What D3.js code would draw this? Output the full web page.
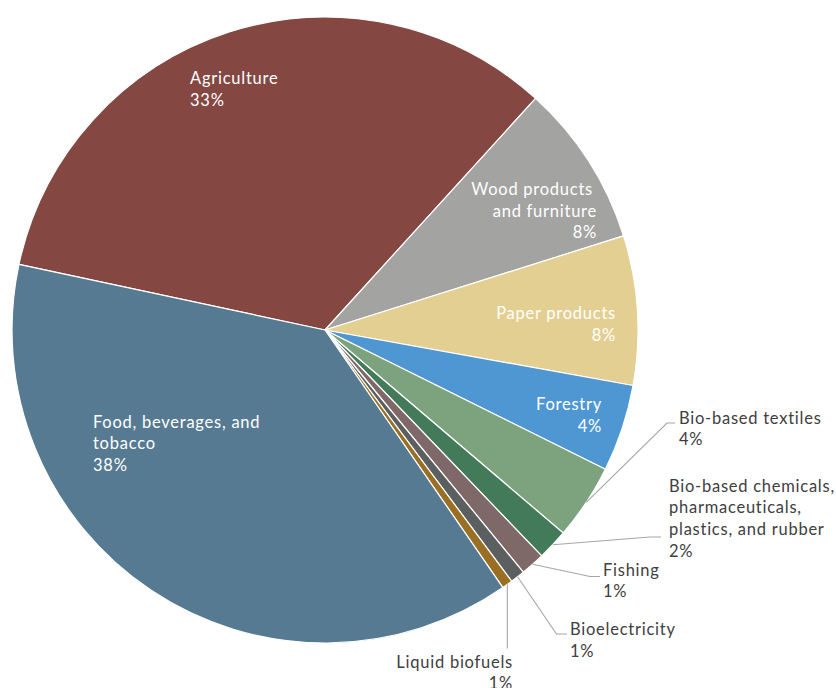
<!DOCTYPE html>
<html><head><meta charset="utf-8">
<script src="https://cdn.jsdelivr.net/npm/d3@7"></script>
<style>html,body{margin:0;padding:0;background:#fff;overflow:hidden}</style>
</head><body><svg id="c" width="836" height="688"></svg>
<script>
const categories = ["Agriculture","Wood products and furniture","Paper products","Forestry","Bio-based textiles","Bio-based chemicals, pharmaceuticals, plastics, and rubber","Fishing","Bioelectricity","Liquid biofuels","Food, beverages, and tobacco"];
const values = [33.4, 8.4, 7.7, 4.5, 3.9, 1.6, 1.25, 0.75, 0.55, 38.0];
const pctLabels = ["33%","8%","8%","4%","4%","2%","1%","1%","1%","38%"];
const colors = ["#844742","#A3A3A2","#E3CF91","#4F97D2","#7CA37D","#437B5A","#7F6968","#5B5F5F","#9A6F24","#567A92"];

// label layout: lines, anchor, x, first baseline, inside?, leader bend/end
const labelLayout = [
  {lines:["Agriculture"], x:190, y:84, anchor:"start", inside:true},
  {lines:["Wood products","and furniture"], x:596, y:195, anchor:"end", inside:true, firstDx:-4},
  {lines:["Paper products"], x:615, y:319, anchor:"end", inside:true},
  {lines:["Forestry"], x:601, y:410, anchor:"end", inside:true},
  {lines:["Bio-based textiles"], x:679, y:423.5, anchor:"start", inside:false, leader:[[667,423],[675,423]]},
  {lines:["Bio-based chemicals,","pharmaceuticals,","plastics, and rubber"], x:669, y:491.5, anchor:"start", inside:false, leader:[[650,537],[661,537]]},
  {lines:["Fishing"], x:603, y:575.5, anchor:"start", inside:false, leader:[[590,576.5],[600,576.5]]},
  {lines:["Bioelectricity"], x:570, y:635, anchor:"start", inside:false, leader:[[556.5,634],[567,634]]},
  {lines:["Liquid biofuels"], x:512, y:667.5, anchor:"end", inside:false, leader:["v",648.5]},
  {lines:["Food, beverages, and","tobacco"], x:93, y:427.5, anchor:"start", inside:true}
];

const cx = 325, cy = 330, R = 313, lineH = 21.7;
const svg = d3.select("#c");
svg.append("rect").attr("width",836).attr("height",688).attr("fill","#fff");
const g = svg.append("g").attr("transform",`translate(${cx},${cy})`);

const startDeg = -77.9;
const pie = d3.pie().sort(null).value(d=>d)
  .startAngle(startDeg*Math.PI/180).endAngle((startDeg+360)*Math.PI/180);
const arcs = pie(values);
const arc = d3.arc().innerRadius(0).outerRadius(R);

g.selectAll("path.slice").data(arcs).join("path")
  .attr("class","slice")
  .attr("d",arc)
  .attr("fill",(d,i)=>colors[i])
  .attr("stroke","#fff").attr("stroke-width",1.2).attr("stroke-linejoin","round");

// leader lines
const leaders = svg.append("g");
arcs.forEach((d,i)=>{
  const L = labelLayout[i];
  if(!L.leader) return;
  const a = (d.startAngle+d.endAngle)/2;
  const sx = cx + R*Math.sin(a), sy = cy - R*Math.cos(a);
  let pts;
  if(L.leader[0]==="v") pts = [[sx,sy],[sx,L.leader[1]]];
  else pts = [[sx,sy]].concat(L.leader);
  leaders.append("path").attr("d",d3.line()(pts))
    .attr("fill","none").attr("stroke","#A6A6A6").attr("stroke-width",1.1);
});

// labels
const font = "Lato, 'Open Sans', sans-serif";
const labels = svg.append("g").attr("font-family",font).attr("font-size",16.5)
  .attr("letter-spacing","0.75px");
labelLayout.forEach((L,i)=>{
  const t = labels.append("text").attr("text-anchor",L.anchor)
    .attr("fill", L.inside ? "#ffffff" : "#404040");
  const all = L.lines.concat([pctLabels[i]]);
  all.forEach((s,k)=>{
    t.append("tspan").attr("x", L.x + (k===0 && L.firstDx ? L.firstDx : 0) + (L.anchor==="end" ? 1 : 0))
      .attr("y", L.y + k*lineH).text(s);
  });
});
</script></body></html>
